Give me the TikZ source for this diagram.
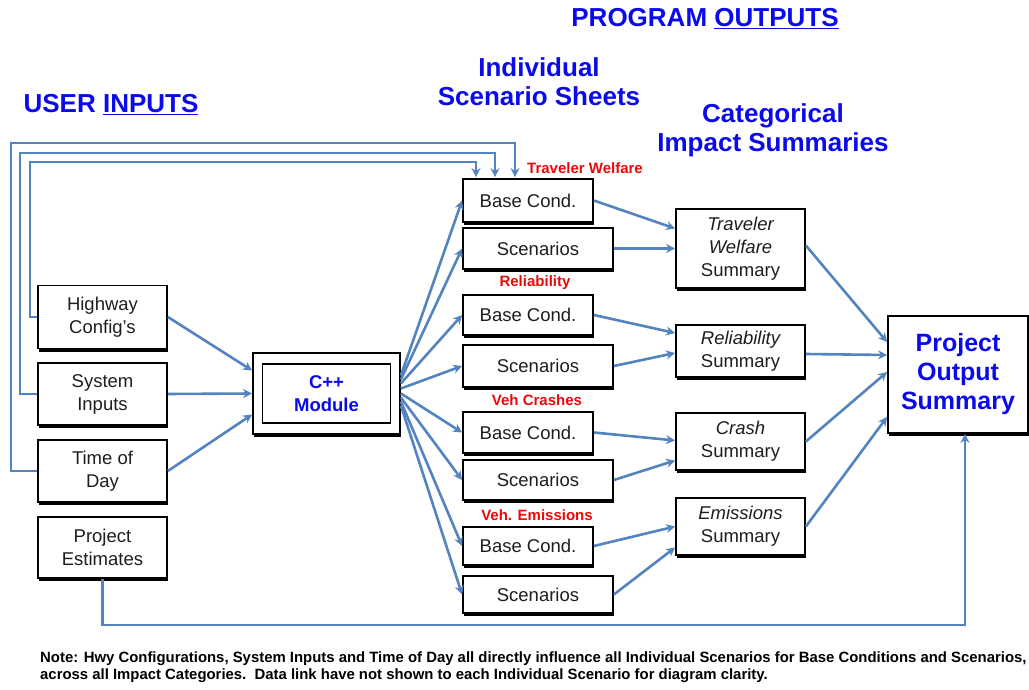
\documentclass[tikz,border=0pt]{standalone}
\usepackage{fontspec}
\setmainfont{Liberation Sans}
\usetikzlibrary{arrows.meta,shadows,calc}
\definecolor{linkc}{RGB}{84,132,192}
\definecolor{ttl}{RGB}{10,10,235}
\definecolor{redl}{RGB}{235,10,10}
\definecolor{txt}{RGB}{30,30,30}
\tikzset{
  box/.style={draw=black, line width=1.8pt, fill=white, inner sep=0pt, align=center,
    text=txt, font=\fontsize{18.5}{23}\selectfont,
    drop shadow={shadow xshift=1pt, shadow yshift=-3pt, fill=black, opacity=1}},
  link/.style={draw=linkc, line width=2.6pt},
  arr/.style={link, -{Stealth[length=9pt,width=9pt]}},
  title/.style={text=ttl, font=\fontsize{26}{29}\selectfont\bfseries, align=center, inner sep=0pt},
  redlab/.style={text=redl, font=\fontsize{15}{17}\selectfont\bfseries, inner sep=0pt},
}
\begin{document}
\begin{tikzpicture}[x=1pt,y=-1pt]
\useasboundingbox (0,0) rectangle (1029,690);
\fill[white] (0,0) rectangle (1029,690);

% titles
\node[title] (tout) at (705,19) {PROGRAM \underline{OUTPUTS}};
\node[title] (tin) at (111,105) {USER \underline{INPUTS}};
\node[title] (tind) at (539,82) {Individual\\Scenario Sheets};
\node[title] (tcat) at (773,130) {Categorical\\Impact Summaries};

% input boxes
\node[box, minimum width=129pt, minimum height=63pt] (hw) at (102.5,317) {Highway\\Config's};
\node[box, minimum width=129pt, minimum height=62pt] (si) at (102.5,394) {System\\Inputs};
\node[box, minimum width=129pt, minimum height=62pt] (td) at (102.5,471) {Time of\\Day};
\node[box, minimum width=129pt, minimum height=61pt] (pe) at (102.5,547.5) {Project\\Estimates};

% C++ module
\node[box, minimum width=147pt, minimum height=81pt] (cpp) at (326.5,393.5) {};
\node[draw=black, line width=1.2pt, minimum width=128pt, minimum height=59pt, inner sep=0pt,
  align=center, text=ttl, font=\fontsize{18.5}{23}\selectfont\bfseries] (cppin) at (326.5,393.5) {C++\\Module};

% scenario sheets
\node[box, minimum width=130pt, minimum height=43pt] (bc1) at (528,200.5) {Base Cond.};
\node[box, minimum width=150pt, minimum height=41pt] (s1) at (538,248.5) {Scenarios};
\node[box, minimum width=130pt, minimum height=40pt] (bc2) at (528,315) {Base Cond.};
\node[box, minimum width=150pt, minimum height=42pt] (s2) at (538,366) {Scenarios};
\node[box, minimum width=130pt, minimum height=41pt] (bc3) at (528,432.5) {Base Cond.};
\node[box, minimum width=150pt, minimum height=40pt] (s3) at (538,480) {Scenarios};
\node[box, minimum width=130pt, minimum height=38pt] (bc4) at (528,546) {Base Cond.};
\node[box, minimum width=150pt, minimum height=37pt] (s4) at (538,594.5) {Scenarios};

% red labels
\node[redlab] (l1) at (585,168) {Traveler Welfare};
\node[redlab] (l2) at (535,283) {Reliability};
\node[redlab] (l3) at (537,400) {Veh Crashes};
\node[redlab] (l4) at (537,515) {Veh. Emissions};

% summaries
\node[box, minimum width=129pt, minimum height=79pt] (tw) at (740.5,248.5) {\itshape Traveler\\\itshape Welfare\\Summary};
\node[box, minimum width=129pt, minimum height=52pt] (rel) at (740.5,351) {\itshape Reliability\\Summary};
\node[box, minimum width=129pt, minimum height=57pt] (cr) at (740.5,441.5) {\itshape Crash\\Summary};
\node[box, minimum width=129pt, minimum height=57pt] (em) at (740.5,526.5) {\itshape Emissions\\Summary};

% project output summary
\node[box, minimum width=140pt, minimum height=117pt, text=ttl,
  font=\fontsize{25}{29}\selectfont\bfseries] (pos) at (958,374.5) {Project\\Output\\Summary};

% feedback lines
\coordinate (k1) at (30,162);
\coordinate (k2) at (20,153);
\coordinate (k3) at (11,143);
\draw[arr] (hw.west) -| (k1) -| ([xshift=-52pt,yshift=1pt]bc1.north);
\draw[arr] (si.west) -| (k2) -| ([xshift=-33pt,yshift=1pt]bc1.north);
\draw[arr] (td.west) -| (k3) -| ([xshift=-13pt,yshift=1pt]bc1.north);

% project estimates to output
\coordinate (k4) at (965,625);
\draw[arr] (pe.south) |- (k4) -- (k4 |- pos.south);

% inputs to C++
\draw[arr] (hw.east) -- ([yshift=23pt]cpp.west);
\draw[arr] (si.east) -- (cpp.west);
\draw[arr] (td.east) -- ([yshift=-21pt]cpp.west);

% fan out
\draw[arr] ([yshift=18pt]cpp.east) -- (bc1.west);
\draw[arr] ([yshift=14pt]cpp.east) -- (s1.west);
\draw[arr] ([yshift=10pt]cpp.east) -- (bc2.west);
\draw[arr] ([yshift=5pt]cpp.east) -- (s2.west);
\draw[arr] ([yshift=0pt]cpp.east) -- (bc3.west);
\draw[arr] ([yshift=-4pt]cpp.east) -- (s3.west);
\draw[arr] ([yshift=-8pt]cpp.east) -- (bc4.west);
\draw[arr] ([yshift=-12pt]cpp.east) -- (s4.west);

% sheets to summaries
\draw[arr] (bc1.east) -- ([yshift=20pt]tw.west);
\draw[arr] (s1.east) -- (tw.west);
\draw[arr] (bc2.east) -- ([yshift=18pt]rel.west);
\draw[arr] (s2.east) -- ([yshift=-2pt]rel.west);
\draw[arr] (bc3.east) -- ([yshift=1pt]cr.west);
\draw[arr] (s3.east) -- ([yshift=-19pt]cr.west);
\draw[arr] (bc4.east) -- ([yshift=0pt]em.west);
\draw[arr] (s4.east) -- ([yshift=-21pt]em.west);

% summaries to output
\draw[arr] ([yshift=3pt]tw.east) -- ([yshift=32.5pt]pos.west);
\draw[arr] ([yshift=-3pt]rel.east) -- ([yshift=19.5pt]pos.west);
\draw[arr] (cr.east) -- ([yshift=2.5pt]pos.west);
\draw[arr] (em.east) -- ([yshift=-42.5pt]pos.west);

% note
\node[anchor=north west, align=left, inner sep=0pt, text=black,
  font=\fontsize{14.9}{17}\selectfont\bfseries] (note) at (40,651)
  {Note: Hwy Configurations, System Inputs and Time of Day all directly influence all Individual Scenarios for Base Conditions and Scenarios,\\
   across all Impact Categories.\ \ Data link have not shown to each Individual Scenario for diagram clarity.};
\end{tikzpicture}
\end{document}
